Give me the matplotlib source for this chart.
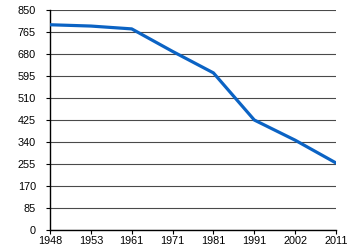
import matplotlib
matplotlib.use("Agg")
import matplotlib.pyplot as plt

years = ["1948", "1953", "1961", "1971", "1981", "1991", "2002", "2011"]
values = [793, 788, 777, 690, 607, 425, 347, 259]
yticks = [0, 85, 170, 255, 340, 425, 510, 595, 680, 765, 850]

plt.rcParams['font.family'] = ['Liberation Sans', 'DejaVu Sans']

fig = plt.figure(figsize=(3.5, 2.5), dpi=100)
ax = fig.add_axes([50/350, 20/250, 286/350, 220/250])

x = list(range(len(years)))
ax.plot(x, values, color="#0b63c4", linewidth=2.3, solid_joinstyle="round", zorder=3)

ax.set_xlim(0, len(years) - 1)
ax.set_ylim(0, 850)
ax.set_xticks(x)
ax.set_xticklabels(years)
ax.set_yticks(yticks)
ax.set_yticklabels([str(v) for v in yticks])

ax.yaxis.grid(True, color="#4a4a4a", linewidth=0.8)
ax.set_axisbelow(True)
for s in ["top", "right"]:
    ax.spines[s].set_visible(False)
for s in ["left", "bottom"]:
    ax.spines[s].set_color("black")
    ax.spines[s].set_linewidth(1.0)

ax.tick_params(axis="both", labelsize=7.8, colors="black", width=0.8)
ax.tick_params(axis="y", length=3, pad=7)
ax.tick_params(axis="x", length=3, pad=1)

fig.savefig("out.png", dpi=100)
